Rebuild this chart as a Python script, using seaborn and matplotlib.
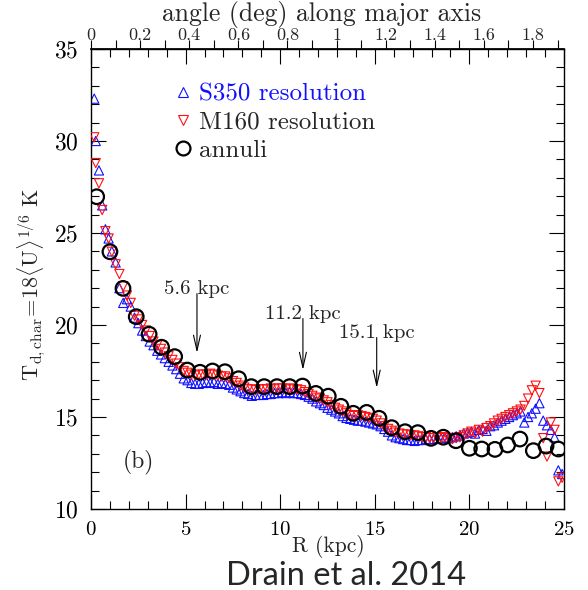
import matplotlib
matplotlib.use("Agg")
import matplotlib.pyplot as plt
from matplotlib.ticker import MultipleLocator, FuncFormatter
from matplotlib.lines import Line2D
import pandas as pd
import seaborn as sns

# Radial bins of the pixel-by-pixel profiles (kpc)
r_pix = [
    0.17, 0.25, 0.42, 0.59, 0.76, 0.93,
    1.1, 1.3, 1.5, 1.7, 1.9,
    2.1, 2.3, 2.5, 2.7, 2.9,
    3.1, 3.3, 3.5, 3.7, 3.9,
    4.1, 4.3, 4.5, 4.7, 4.9,
    5.1, 5.3, 5.5, 5.7, 5.9,
    6.1, 6.3, 6.5, 6.7, 6.9,
    7.1, 7.3, 7.5, 7.7, 7.9,
    8.1, 8.3, 8.5, 8.7, 8.9,
    9.1, 9.3, 9.5, 9.7, 9.9,
    10.1, 10.3, 10.5, 10.7, 10.9,
    11.1, 11.3, 11.5, 11.7, 11.9,
    12.1, 12.3, 12.5, 12.7, 12.9,
    13.1, 13.3, 13.5, 13.7, 13.9,
    14.1, 14.3, 14.5, 14.7, 14.9,
    15.1, 15.3, 15.5, 15.7, 15.9,
    16.1, 16.3, 16.5, 16.7, 16.9,
    17.1, 17.3, 17.5, 17.7, 17.9,
    18.1, 18.3, 18.5, 18.7, 18.9,
    19.1, 19.3, 19.5, 19.7, 19.9,
    20.1, 20.3, 20.5, 20.7, 20.9,
    21.1, 21.3, 21.5, 21.7, 21.9,
    22.1, 22.3, 22.5, 22.7, 22.9,
    23.1, 23.3, 23.5, 23.7, 23.9,
    24.1, 24.3, 24.5, 24.7, 24.9,
]

# Characteristic dust temperature at S350 resolution (K)
t_s350 = [
    32.3, 30.0, 28.4, 26.5, 25.2, 24.7,
    24.0, 23.4, 22.0, 21.2, 21.4,
    21.0, 20.4, 20.1, 19.7, 19.4,
    19.1, 18.9, 18.6, 18.4, 18.2,
    18.0, 17.8, 17.6, 17.35, 17.1,
    17.0, 16.85, 16.8, 16.8, 16.85,
    16.9, 16.85, 16.9, 16.8, 16.85,
    16.8, 16.75, 16.6, 16.5, 16.4,
    16.3, 16.25, 16.15, 16.2, 16.2,
    16.2, 16.25, 16.25, 16.3, 16.3,
    16.35, 16.3, 16.35, 16.3, 16.3,
    16.25, 16.2, 16.1, 16.0, 15.85,
    15.75, 15.65, 15.5, 15.4, 15.3,
    15.2, 15.05, 14.95, 14.9, 14.85,
    14.8, 14.8, 14.75, 14.7, 14.65,
    14.6, 14.5, 14.35, 14.2, 14.0,
    13.9, 13.85, 13.8, 13.75, 13.75,
    13.7, 13.75, 13.75, 13.8, 13.8,
    13.8, 13.85, 13.85, 13.9, 13.85,
    13.9, 13.95, 14.0, 14.1, 14.15,
    14.2, 14.1, 14.3, 14.35, 14.25,
    14.5, 14.55, 14.7, 14.8, 14.9,
    15.0, 15.1, 15.2, 15.3, 14.7,
    15.0, 15.2, 15.45, 15.75, 14.8,
    14.55, 14.3, 13.9, 12.1, 11.9,
]

# Characteristic dust temperature at M160 resolution (K)
t_m160 = [
    30.2, 28.8, 27.7, 26.25, 25.1, 24.7,
    23.98, 23.3, 22.77, 22.1, 21.6,
    21.2, 20.5, 20.3, 20.0, 19.7,
    19.4, 19.1, 18.9, 18.7, 18.5,
    18.3, 18.1, 17.9, 17.7, 17.5,
    17.4, 17.3, 17.25, 17.3, 17.3,
    17.3, 17.35, 17.3, 17.25, 17.2,
    17.2, 17.1, 16.95, 16.85, 16.7,
    16.6, 16.5, 16.5, 16.45, 16.5,
    16.5, 16.5, 16.55, 16.5, 16.55,
    16.55, 16.5, 16.55, 16.5, 16.5,
    16.45, 16.35, 16.25, 16.15, 16.05,
    16.0, 15.9, 15.8, 15.65, 15.5,
    15.4, 15.3, 15.2, 15.1, 15.05,
    15.1, 15.05, 15.0, 14.95, 14.9,
    14.8, 14.65, 14.5, 14.35, 14.25,
    14.15, 14.1, 14.05, 14.05, 14.0,
    14.0, 13.95, 13.9, 13.9, 13.85,
    13.85, 13.9, 13.85, 13.9, 13.85,
    13.8, 13.85, 13.9, 14.0, 14.1,
    14.2, 14.1, 14.3, 14.2, 14.4,
    14.5, 14.65, 14.8, 14.9, 15.0,
    15.1, 15.2, 15.3, 15.4, 15.6,
    16.0, 16.45, 16.7, 16.3, 13.85,
    12.85, 14.7, 14.3, 11.5, 11.7,
]

# Elliptical annuli
r_ann = [0.30, 1.00, 1.69, 2.39, 3.07, 3.73, 4.42, 5.09, 5.76, 6.42,
         7.08, 7.80, 8.47, 9.15, 9.83, 10.50, 11.18, 11.88, 12.54, 13.21,
         13.86, 14.57, 15.22, 15.89, 16.60, 17.27, 17.97, 18.62, 19.29, 20.00,
         20.65, 21.35, 22.02, 22.67, 23.38, 24.05, 24.70]
t_ann = [26.97, 23.98, 21.99, 20.45, 19.50, 18.79, 18.28, 17.55, 17.43, 17.50,
         17.46, 17.08, 16.65, 16.65, 16.65, 16.65, 16.68, 16.28, 16.13, 15.58,
         15.20, 15.25, 14.93, 14.42, 14.20, 14.15, 13.84, 13.90, 13.71, 13.30,
         13.26, 13.24, 13.48, 13.80, 13.17, 13.42, 13.26]

# Marked radii (kpc) and where their labels sit (K)
mark_r = [5.6, 11.2, 15.1]
mark_labels = ["5.6 kpc", "11.2 kpc", "15.1 kpc"]
mark_text_t = [21.95, 20.6, 19.57]
mark_tip_t = [18.48, 17.55, 16.58]

legend_labels = ["S350 resolution", "M160 resolution", "annuli"]
KPC_PER_DEG = 12.98

pix = pd.DataFrame({"R": r_pix, "S350": t_s350, "M160": t_m160})
ann = pd.DataFrame({"R": r_ann, "T": t_ann})

sns.set_theme(style="white")
plt.rcParams["font.family"] = ["cmr10", "DejaVu Serif"]
plt.rcParams["mathtext.fontset"] = "cm"
plt.rcParams["axes.formatter.use_mathtext"] = True

BLUE = "#1010ff"
RED = "#ff1010"

fig = plt.figure(figsize=(5.88, 5.90), dpi=100)
fig.patch.set_facecolor("white")
ax = fig.add_axes([0.1548, 0.1373, 0.8044, 0.7797])
ax.set_facecolor("white")

sns.scatterplot(data=pix, x="R", y="S350", ax=ax, marker="^", s=44,
                facecolors="none", edgecolor=BLUE, linewidth=0.8,
                legend=False, zorder=2)
sns.scatterplot(data=pix, x="R", y="M160", ax=ax, marker="v", s=44,
                facecolors="none", edgecolor=RED, linewidth=0.8,
                legend=False, zorder=3)
sns.scatterplot(data=ann, x="R", y="T", ax=ax, marker="o", s=110,
                facecolors="none", edgecolor="black", linewidth=1.6,
                legend=False, zorder=4)
for coll, ec in zip(ax.collections, [BLUE, RED, "black"]):
    coll.set_facecolor("none")
    coll.set_edgecolor(ec)

ax.set_xlim(0, 25)
ax.set_ylim(10, 35)
ax.set_xlabel("")
ax.set_ylabel("")

for sp in ax.spines.values():
    sp.set_color("black")
    sp.set_linewidth(1.0)

ax.xaxis.set_major_locator(MultipleLocator(5))
ax.xaxis.set_minor_locator(MultipleLocator(1))
ax.yaxis.set_major_locator(MultipleLocator(5))
ax.yaxis.set_minor_locator(MultipleLocator(1))
ax.tick_params(which="both", direction="in", top=True, right=True,
               bottom=True, left=True, color="black", width=0.8)
ax.tick_params(which="major", length=11)
ax.tick_params(which="minor", length=6)
ax.tick_params(axis="x", which="major", labelsize=15, pad=9, labelcolor="black")
ax.tick_params(axis="y", which="major", labelsize=17, pad=9, labelcolor="black")

secax = ax.secondary_xaxis("top", functions=(lambda r: r / KPC_PER_DEG,
                                             lambda d: d * KPC_PER_DEG))
secax.xaxis.set_major_locator(MultipleLocator(0.2))
secax.xaxis.set_minor_locator(MultipleLocator(0.1))
secax.xaxis.set_major_formatter(FuncFormatter(lambda v, p: f"{v:g}"))
secax.tick_params(which="both", direction="out", length=6.5, width=0.8,
                  color="black")
secax.tick_params(which="major", labelsize=13, pad=-2.5)
secax.spines["top"].set_color("black")

# Arrows marking selected radii
for r, lab, tt, tip in zip(mark_r, mark_labels, mark_text_t, mark_tip_t):
    ax.text(r, tt, lab, ha="center", va="center", fontsize=15, zorder=6)
    ax.annotate("", xy=(r, tip), xytext=(r, tt - 0.25),
                arrowprops=dict(arrowstyle="->,head_length=1.1,head_width=0.25",
                                lw=0.8, color="black", shrinkA=0, shrinkB=0,
                                mutation_scale=10), zorder=6)

ax.text(2.5, 12.55, "(b)", ha="center", va="center", fontsize=17)

handles = [
    Line2D([], [], marker="^", ls="", mfc="none", mec=BLUE, ms=6.5, mew=0.8),
    Line2D([], [], marker="v", ls="", mfc="none", mec=RED, ms=6.5, mew=0.8),
    Line2D([], [], marker="o", ls="", mfc="none", mec="black", ms=10, mew=1.6),
]
leg = ax.legend(handles, legend_labels, loc="upper left",
                bbox_to_anchor=(0.17, 0.925), frameon=False, fontsize=18,
                handletextpad=0.2, labelspacing=0.22, handlelength=0.9,
                borderaxespad=0, borderpad=0)
leg.get_texts()[0].set_color(BLUE)

fig.text(322 / 588, 1 - 15 / 590, "angle (deg) along major axis",
         ha="center", va="center", fontsize=18.5)
fig.text(328 / 588, 1 - 546 / 590, "R (kpc)", ha="center", va="center",
         fontsize=15.5)
fig.text(32 / 588, 1 - 285 / 590,
         r"$\mathrm{T_{d,char}\!=\!18\langle U\rangle^{1/6}\ K}$",
         rotation=90, ha="center", va="center", fontsize=16)
fig.text(346 / 588, 1 - 585 / 590, "Drain et al. 2014", ha="center",
         va="baseline", fontsize=23.5, family="Lato")

fig.savefig("out.png", dpi=100)
